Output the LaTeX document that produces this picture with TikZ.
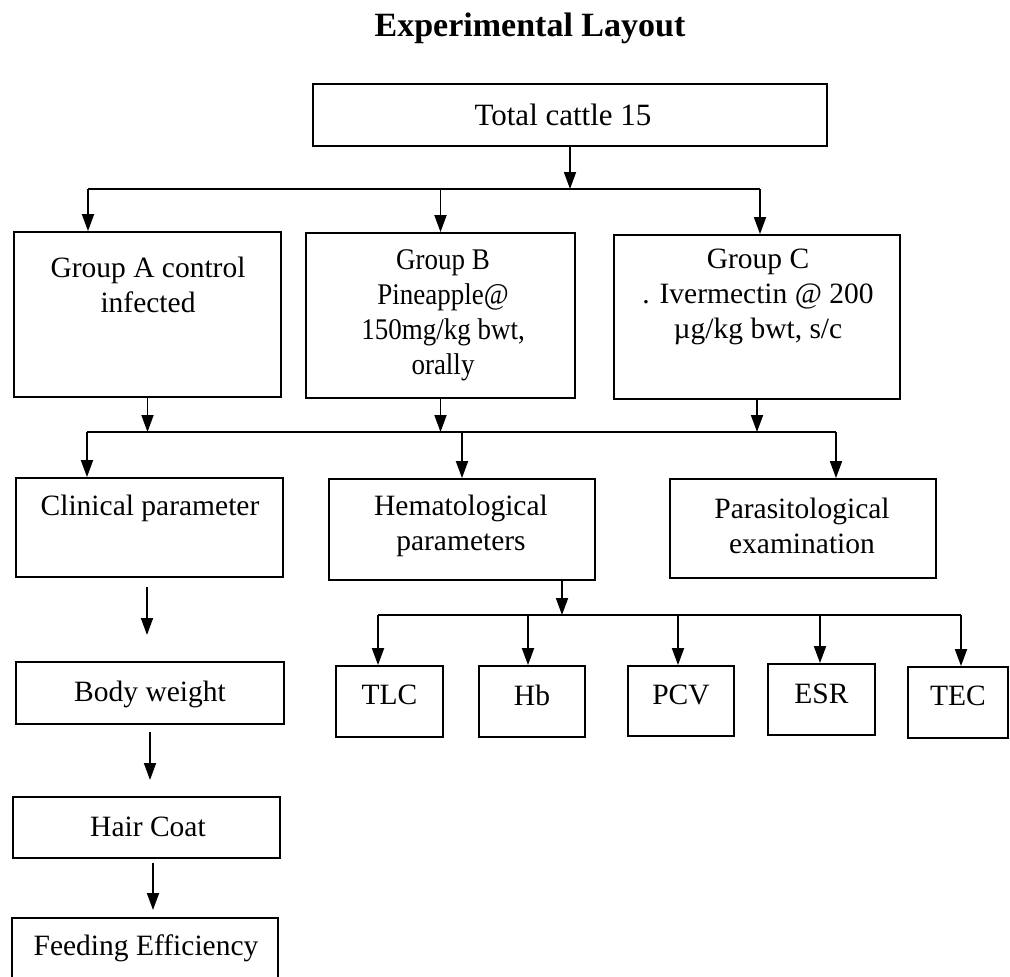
\documentclass[tikz,border=0pt]{standalone}
\usepackage{fontspec}
\setmainfont{Liberation Serif}
\newfontfamily\condfont[FakeStretch=0.9]{Liberation Serif}
\usetikzlibrary{arrows.meta}
\begin{document}
\begin{tikzpicture}[x=1pt,y=-1pt,
  box/.style={draw, line width=1.8pt, inner sep=0pt, rectangle},
  txt/.style={font=\fontsize{29.5}{35}\selectfont, align=center, inner sep=0pt},
  ln/.style={line width=1.8pt},
  arr/.style={line width=1.8pt, -{Triangle[length=17pt,width=12pt]}}]
\useasboundingbox (0,0) rectangle (1010,977);
\clip (0,0) rectangle (1010,977);

\node[font=\fontsize{34}{40}\selectfont\bfseries, inner sep=0pt] (title) at (530,28) {Experimental Layout};

% top
\node[box, minimum width=514pt, minimum height=62pt] (total) at (570,115) {};
\node[txt, font=\fontsize{31}{37}\selectfont] (totalT) at (563,115) {Total cattle 15};

% groups
\node[box, minimum width=267pt, minimum height=165pt] (gA) at (147.5,314.5) {};
\node[box, minimum width=269pt, minimum height=165pt] (gB) at (440.5,315.5) {};
\node[box, minimum width=286pt, minimum height=164pt] (gC) at (757,317) {};
\node[txt] (gAT) at (148,284.5) {Group A control\\infected};
\node[txt, font=\condfont\fontsize{30}{35}\selectfont] (gBT) at (443,315) {Group B\\Pineapple@\\150mg/kg bwt,\\orally};
\node[txt] (gCT) at (758,297) {Group C\\. Ivermectin @ 200\\µg/kg bwt, s/c};

% parameters
\node[box, minimum width=267pt, minimum height=99pt] (clin) at (149.5,527.5) {};
\node[box, minimum width=266pt, minimum height=101pt] (hem) at (462,529.5) {};
\node[box, minimum width=266pt, minimum height=99pt] (par) at (803,528.5) {};
\node[txt] (clinT) at (150,508) {Clinical parameter};
\node[txt] (hemT) at (461,525.5) {Hematological\\parameters};
\node[txt] (parT) at (802,525.5) {Parasitological\\examination};

% hematological items
\node[box, minimum width=107pt, minimum height=71pt] (tlc) at (389.5,701.5) {};
\node[box, minimum width=106pt, minimum height=71pt] (hb) at (532,701.5) {};
\node[box, minimum width=106pt, minimum height=70pt] (pcv) at (681,701) {};
\node[box, minimum width=107pt, minimum height=71pt] (esr) at (821.5,699.5) {};
\node[box, minimum width=100pt, minimum height=71pt] (tec) at (958,702.5) {};
\node[txt] (tlcT) at (389.5,695) {TLC};
\node[txt] (hbT) at (532,695) {Hb};
\node[txt] (pcvT) at (681,695) {PCV};
\node[txt] (esrT) at (821.5,694) {ESR};
\node[txt] (tecT) at (958,696) {TEC};

% clinical chain
\node[box, minimum width=268pt, minimum height=62pt] (bw) at (150,693) {};
\node[txt] (bwT) at (150,694) {Body weight};
\node[box, minimum width=267pt, minimum height=61pt] (hc) at (146.5,827.5) {};
\node[txt] (hcT) at (148,827) {Hair Coat};
\node[box, minimum width=266pt, minimum height=62pt] (fe) at (145,949) {};
\node[txt] (feT) at (146,948) {Feeding Efficiency};

% bus 1
\coordinate (b1L) at (88,189);
\coordinate (b1R) at (760,189);
\draw[arr] (total.south) -- (total.south |- b1L);
\draw[ln] (b1L) -- (b1R);
\draw[arr] (b1L) -- (b1L |- gA.north);
\draw[arr] (gB.north |- b1L) -- (gB.north);
\draw[arr] (b1R) -- (b1R |- gC.north);

% bus 2
\coordinate (b2L) at (87,432);
\coordinate (b2R) at (836,432);
\draw[arr] (gA.south) -- (gA.south |- b2L);
\draw[arr] (gB.south) -- (gB.south |- b2L);
\draw[arr] (gC.south) -- (gC.south |- b2L);
\draw[ln] (b2L) -- (b2R);
\draw[arr] (b2L) -- (b2L |- clin.north);
\draw[arr] (hem.north |- b2L) -- (hem.north);
\draw[arr] (b2R) -- (b2R |- par.north);

% bus 3
\coordinate (hemOut) at (562,580);
\coordinate (b3L) at (378,615);
\coordinate (b3hb) at (528,615);
\coordinate (b3pcv) at (678,615);
\coordinate (b3esr) at (820,615);
\coordinate (b3R) at (961,615);
\draw[arr] (hemOut) -- (hemOut |- b3L);
\draw[ln] (b3L) -- (b3R);
\draw[arr] (b3L) -- (b3L |- tlc.north);
\draw[arr] (b3hb) -- (b3hb |- hb.north);
\draw[arr] (b3pcv) -- (b3pcv |- pcv.north);
\draw[arr] (b3esr) -- (b3esr |- esr.north);
\draw[arr] (b3R) -- (b3R |- tec.north);

% clinical chain arrows
\coordinate (c1a) at (147,587); \coordinate (c1b) at (147,635);
\coordinate (c2a) at (150,732); \coordinate (c2b) at (150,780);
\coordinate (c3a) at (153,863); \coordinate (c3b) at (153,910);
\draw[arr] (c1a) -- (c1b);
\draw[arr] (c2a) -- (c2b);
\draw[arr] (c3a) -- (c3b);
\end{tikzpicture}
\end{document}
